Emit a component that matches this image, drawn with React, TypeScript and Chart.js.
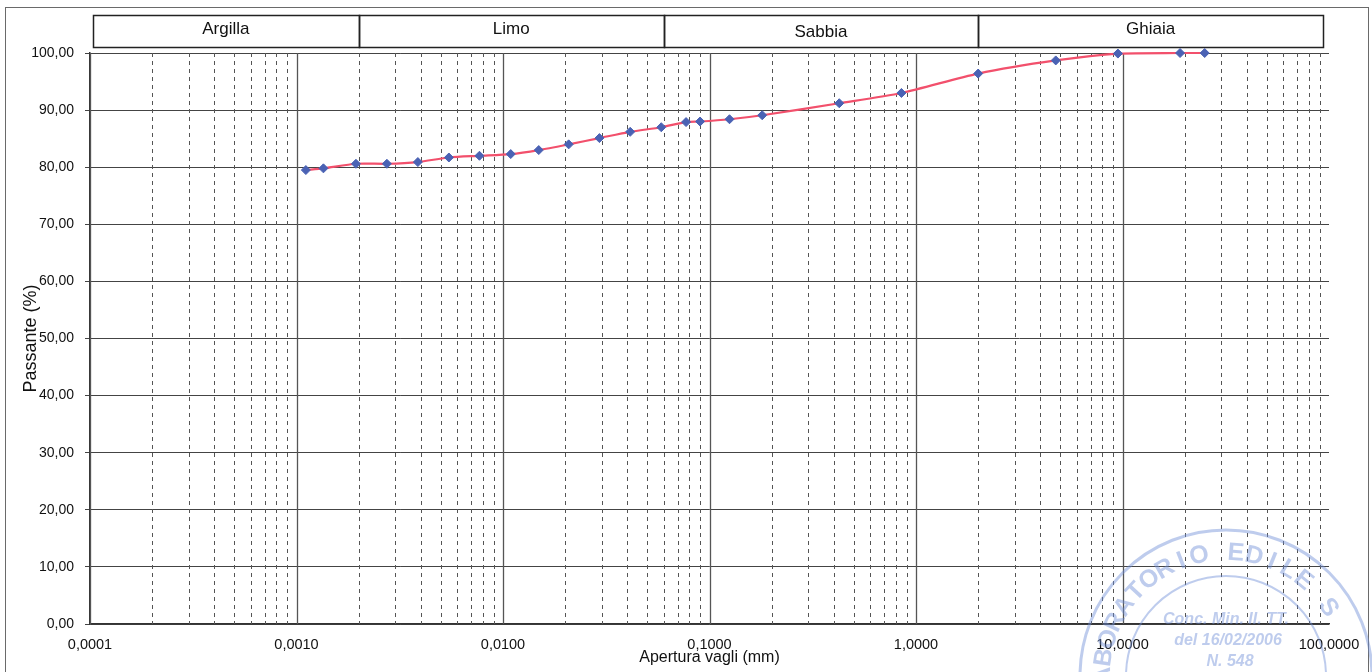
import React, { useEffect, useRef } from "react";
import { Chart, registerables } from "chart.js";

Chart.register(...registerables);

// Grain sizes (mm) and passing percentages
const sizes = [
  0.00111, 0.00135, 0.00194, 0.00274, 0.00387, 0.00547, 0.00769, 0.0109,
  0.0149, 0.0208, 0.0293, 0.0413, 0.0584, 0.077, 0.09, 0.125, 0.18, 0.425,
  0.85, 2.0, 4.75, 9.5, 19.0, 25.0,
];
const passing = [
  79.5, 79.8, 80.6, 80.6, 80.9, 81.7, 82.0, 82.3, 83.0, 84.0, 85.1, 86.2,
  87.0, 87.9, 88.0, 88.4, 89.1, 91.2, 93.0, 96.4, 98.7, 99.9, 100, 100,
];
const decadeTicks = [0.0001, 0.001, 0.01, 0.1, 1, 10, 100];
const classNames = ["Argilla", "Limo", "Sabbia", "Ghiaia"];
const classEdges = [0.0001, 0.002, 0.06, 2, 100];
const stampRing = "LABORATORIO EDILE S";
const stampLines = ["Conc. Min. II. TT.", "del 16/02/2006", "N. 548"];

const FONT = "'Liberation Sans', Arial, sans-serif";

const decorPlugin = {
  id: "decor",
  beforeDraw(chart: any) {
    const ctx = chart.ctx;
    ctx.save();
    ctx.fillStyle = "#ffffff";
    ctx.fillRect(0, 0, chart.width, chart.height);
    ctx.strokeStyle = "#6a6a6a";
    ctx.lineWidth = 1;
    ctx.strokeRect(5.5, 7.5, 1363, 700);
    ctx.restore();
  },
  beforeDatasetsDraw(chart: any) {
    const ctx = chart.ctx;
    const xs = chart.scales.x;
    const { top, bottom } = chart.chartArea;
    ctx.save();
    // vertical log grid
    for (let e = -4; e < 2; e++) {
      const d = Math.pow(10, e);
      for (let m = 1; m <= 9; m++) {
        const v = m * d;
        const px = Math.round(xs.getPixelForValue(v)) + 0.5;
        ctx.beginPath();
        if (m === 1) {
          ctx.setLineDash([]);
          ctx.strokeStyle = "#555555";
          ctx.lineWidth = 1.3;
        } else {
          ctx.setLineDash([4, 4]);
          ctx.strokeStyle = "#555555";
          ctx.lineWidth = 1;
        }
        ctx.moveTo(px, top);
        ctx.lineTo(px, bottom);
        ctx.stroke();
      }
    }
    ctx.setLineDash([]);
    // header boxes for the soil classes
    const boxTop = 15.5;
    const boxBottom = 47.5;
    ctx.strokeStyle = "#222222";
    ctx.lineWidth = 1.5;
    ctx.fillStyle = "#111111";
    ctx.font = `17px ${FONT}`;
    ctx.textAlign = "center";
    ctx.textBaseline = "middle";
    for (let i = 0; i < classNames.length; i++) {
      let x0 = xs.getPixelForValue(classEdges[i]);
      let x1 = xs.getPixelForValue(classEdges[i + 1]);
      if (i === 0) x0 += 3;
      if (i === classNames.length - 1) x1 -= 6;
      ctx.strokeRect(Math.round(x0) + 0.5, boxTop, Math.round(x1 - x0), boxBottom - boxTop);
      ctx.fillText(classNames[i], (x0 + x1) / 2, i === 2 ? 32 : 29);
    }
    ctx.restore();
  },
  afterDraw(chart: any) {
    // faint stamp of the scanned original
    const ctx = chart.ctx;
    const cx = 1226;
    const cy = 676;
    ctx.save();
    ctx.globalAlpha = 0.45;
    ctx.strokeStyle = "#6f8fd6";
    ctx.fillStyle = "#6f8fd6";
    ctx.lineWidth = 3;
    ctx.beginPath();
    ctx.arc(cx, cy, 146, 0, Math.PI * 2);
    ctx.stroke();
    ctx.lineWidth = 2;
    ctx.beginPath();
    ctx.arc(cx, cy, 100, 0, Math.PI * 2);
    ctx.stroke();
    ctx.font = `bold 25px ${FONT}`;
    ctx.textAlign = "center";
    ctx.textBaseline = "middle";
    const step = 0.15;
    const start = -2.54 - 5 * step;
    for (let i = 0; i < stampRing.length; i++) {
      const a = start + i * step;
      ctx.save();
      ctx.translate(cx + Math.cos(a) * 123, cy + Math.sin(a) * 123);
      ctx.rotate(a + Math.PI / 2);
      ctx.fillText(stampRing[i], 0, 0);
      ctx.restore();
    }
    ctx.font = `bold italic 16px ${FONT}`;
    stampLines.forEach((t, i) => ctx.fillText(t, cx + i * 2, 620 + i * 21));
    ctx.restore();
  },
};

export default function App() {
  const ref = useRef<HTMLCanvasElement | null>(null);

  useEffect(() => {
    if (!ref.current) return;
    const chart = new Chart(ref.current, {
      type: "scatter",
      data: {
        datasets: [
          {
            data: sizes.map((s, i) => ({ x: s, y: passing[i] })),
            showLine: true,
            clip: false,
            borderColor: "#f2506c",
            borderWidth: 2.2,
            tension: 0.25,
            pointStyle: "rectRot",
            pointRadius: 4.5,
            pointBackgroundColor: "#4a62b4",
            pointBorderColor: "#4a62b4",
            pointBorderWidth: 1,
          } as any,
        ],
      },
      options: {
        responsive: false,
        animation: false,
        layout: { padding: { left: 0, right: 43, top: 53, bottom: 0 } },
        plugins: {
          legend: { display: false },
          tooltip: { enabled: false },
        },
        scales: {
          x: {
            type: "logarithmic",
            min: 0.0001,
            max: 100,
            afterBuildTicks: (s: any) => {
              s.ticks = decadeTicks.map((v) => ({ value: v, major: true }));
            },
            afterFit: (s: any) => {
              s.height = 48;
            },
            grid: { display: false },
            border: { display: true, color: "#333333", width: 1.5 },
            ticks: {
              autoSkip: false,
              maxRotation: 0,
              padding: 4,
              color: "#111111",
              font: { family: FONT, size: 14.5 },
              callback: (v: any) => Number(v).toFixed(4).replace(".", ","),
            },
            title: {
              display: true,
              text: "Apertura vagli (mm)",
              color: "#111111",
              font: { family: FONT, size: 16 },
              padding: { top: 0, bottom: 5 },
            },
          },
          y: {
            min: 0,
            max: 100,
            afterFit: (s: any) => {
              s.width = 90;
            },
            grid: {
              color: "#444444",
              lineWidth: 1,
              drawTicks: true,
              tickLength: 5,
              tickColor: "#444444",
            },
            border: { display: true, color: "#333333", width: 1.5 },
            ticks: {
              stepSize: 10,
              padding: 11,
              color: "#111111",
              font: { family: FONT, size: 14 },
              callback: (v: any) => Number(v).toFixed(2).replace(".", ","),
            },
            title: {
              display: true,
              text: "Passante (%)",
              color: "#111111",
              font: { family: FONT, size: 18 },
              padding: { top: 20, bottom: 0 },
            },
          },
        },
      },
      plugins: [decorPlugin],
    });
    return () => chart.destroy();
  }, []);

  return (
    <div style={{ position: "absolute", left: 0, top: 0, width: 1372, height: 672 }}>
      <canvas ref={ref} width={1372} height={672} style={{ display: "block" }} />
    </div>
  );
}
